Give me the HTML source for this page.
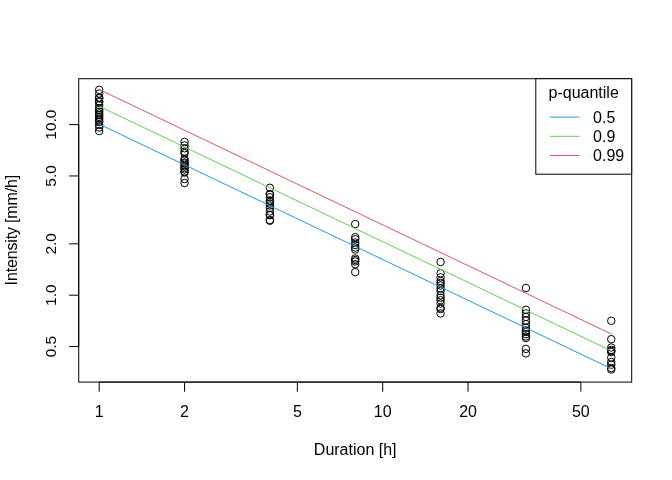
<!DOCTYPE html>
<html><head><meta charset="utf-8"><style>
html,body{margin:0;padding:0;background:#fff;}
svg{display:block;will-change:transform;}
text{font-family:"Liberation Sans",sans-serif;font-size:16px;fill:#000;}
</style></head><body>
<svg width="672" height="480" viewBox="0 0 672 480">

<g fill="none" stroke="#000" stroke-width="1">
<circle cx="99.20" cy="89.85" r="3.75"/>
<circle cx="99.20" cy="93.50" r="3.75"/>
<circle cx="99.20" cy="97.50" r="3.75"/>
<circle cx="99.20" cy="98.25" r="3.75"/>
<circle cx="99.20" cy="101.25" r="3.75"/>
<circle cx="99.20" cy="102.00" r="3.75"/>
<circle cx="99.20" cy="105.25" r="3.75"/>
<circle cx="99.20" cy="108.25" r="3.75"/>
<circle cx="99.20" cy="110.00" r="3.75"/>
<circle cx="99.20" cy="111.75" r="3.75"/>
<circle cx="99.20" cy="113.50" r="3.75"/>
<circle cx="99.20" cy="115.25" r="3.75"/>
<circle cx="99.20" cy="117.00" r="3.75"/>
<circle cx="99.20" cy="118.75" r="3.75"/>
<circle cx="99.20" cy="120.50" r="3.75"/>
<circle cx="99.20" cy="122.00" r="3.75"/>
<circle cx="99.20" cy="125.00" r="3.75"/>
<circle cx="99.20" cy="127.50" r="3.75"/>
<circle cx="99.20" cy="131.00" r="3.75"/>
<circle cx="184.54" cy="141.90" r="3.75"/>
<circle cx="184.54" cy="145.45" r="3.75"/>
<circle cx="184.54" cy="148.25" r="3.75"/>
<circle cx="184.54" cy="151.65" r="3.75"/>
<circle cx="184.54" cy="153.25" r="3.75"/>
<circle cx="184.54" cy="159.00" r="3.75"/>
<circle cx="184.54" cy="160.50" r="3.75"/>
<circle cx="184.54" cy="162.50" r="3.75"/>
<circle cx="184.54" cy="163.50" r="3.75"/>
<circle cx="184.54" cy="165.00" r="3.75"/>
<circle cx="184.54" cy="166.50" r="3.75"/>
<circle cx="184.54" cy="168.00" r="3.75"/>
<circle cx="184.54" cy="169.50" r="3.75"/>
<circle cx="184.54" cy="171.50" r="3.75"/>
<circle cx="184.54" cy="172.50" r="3.75"/>
<circle cx="184.54" cy="179.00" r="3.75"/>
<circle cx="184.54" cy="183.00" r="3.75"/>
<circle cx="269.88" cy="187.75" r="3.75"/>
<circle cx="269.88" cy="194.00" r="3.75"/>
<circle cx="269.88" cy="194.50" r="3.75"/>
<circle cx="269.88" cy="197.25" r="3.75"/>
<circle cx="269.88" cy="200.50" r="3.75"/>
<circle cx="269.88" cy="202.00" r="3.75"/>
<circle cx="269.88" cy="203.50" r="3.75"/>
<circle cx="269.88" cy="205.50" r="3.75"/>
<circle cx="269.88" cy="208.00" r="3.75"/>
<circle cx="269.88" cy="211.50" r="3.75"/>
<circle cx="269.88" cy="214.75" r="3.75"/>
<circle cx="269.88" cy="215.25" r="3.75"/>
<circle cx="269.88" cy="220.00" r="3.75"/>
<circle cx="269.88" cy="220.75" r="3.75"/>
<circle cx="355.23" cy="224.00" r="3.75"/>
<circle cx="355.23" cy="237.20" r="3.75"/>
<circle cx="355.23" cy="239.30" r="3.75"/>
<circle cx="355.23" cy="242.50" r="3.75"/>
<circle cx="355.23" cy="245.00" r="3.75"/>
<circle cx="355.23" cy="247.50" r="3.75"/>
<circle cx="355.23" cy="249.50" r="3.75"/>
<circle cx="355.23" cy="258.50" r="3.75"/>
<circle cx="355.23" cy="260.00" r="3.75"/>
<circle cx="355.23" cy="261.50" r="3.75"/>
<circle cx="355.23" cy="264.25" r="3.75"/>
<circle cx="355.23" cy="272.10" r="3.75"/>
<circle cx="440.57" cy="262.00" r="3.75"/>
<circle cx="440.57" cy="273.30" r="3.75"/>
<circle cx="440.57" cy="277.35" r="3.75"/>
<circle cx="440.57" cy="281.00" r="3.75"/>
<circle cx="440.57" cy="283.00" r="3.75"/>
<circle cx="440.57" cy="285.50" r="3.75"/>
<circle cx="440.57" cy="288.45" r="3.75"/>
<circle cx="440.57" cy="291.00" r="3.75"/>
<circle cx="440.57" cy="295.25" r="3.75"/>
<circle cx="440.57" cy="297.75" r="3.75"/>
<circle cx="440.57" cy="300.25" r="3.75"/>
<circle cx="440.57" cy="303.50" r="3.75"/>
<circle cx="440.57" cy="307.85" r="3.75"/>
<circle cx="440.57" cy="309.00" r="3.75"/>
<circle cx="440.57" cy="313.45" r="3.75"/>
<circle cx="525.91" cy="288.00" r="3.75"/>
<circle cx="525.91" cy="309.75" r="3.75"/>
<circle cx="525.91" cy="313.35" r="3.75"/>
<circle cx="525.91" cy="316.95" r="3.75"/>
<circle cx="525.91" cy="320.55" r="3.75"/>
<circle cx="525.91" cy="324.15" r="3.75"/>
<circle cx="525.91" cy="327.75" r="3.75"/>
<circle cx="525.91" cy="330.50" r="3.75"/>
<circle cx="525.91" cy="332.00" r="3.75"/>
<circle cx="525.91" cy="334.20" r="3.75"/>
<circle cx="525.91" cy="336.50" r="3.75"/>
<circle cx="525.91" cy="338.00" r="3.75"/>
<circle cx="525.91" cy="348.90" r="3.75"/>
<circle cx="525.91" cy="353.40" r="3.75"/>
<circle cx="611.25" cy="320.80" r="3.75"/>
<circle cx="611.25" cy="339.20" r="3.75"/>
<circle cx="611.25" cy="347.50" r="3.75"/>
<circle cx="611.25" cy="349.90" r="3.75"/>
<circle cx="611.25" cy="350.90" r="3.75"/>
<circle cx="611.25" cy="352.00" r="3.75"/>
<circle cx="611.25" cy="357.50" r="3.75"/>
<circle cx="611.25" cy="362.00" r="3.75"/>
<circle cx="611.25" cy="364.75" r="3.75"/>
<circle cx="611.25" cy="368.00" r="3.75"/>
<circle cx="611.25" cy="369.50" r="3.75"/>
</g>
<g fill="none" stroke-width="1">
<line x1="99.20" y1="124.15" x2="611.25" y2="368.65" stroke="#2297E6"/>
<line x1="99.20" y1="106.3" x2="611.25" y2="350.8" stroke="#61D04F"/>
<line x1="99.20" y1="89.5" x2="611.25" y2="334.0" stroke="#DF536B"/>
</g>
<rect x="78.72" y="78.72" width="552.96" height="303.36" fill="none" stroke="#000" stroke-width="1"/>
<g stroke="#000" stroke-width="1">
<line x1="99.20" y1="382.08" x2="580.86" y2="382.08"/>
<line x1="99.20" y1="382.08" x2="99.20" y2="391.68"/>
<line x1="184.54" y1="382.08" x2="184.54" y2="391.68"/>
<line x1="297.36" y1="382.08" x2="297.36" y2="391.68"/>
<line x1="382.70" y1="382.08" x2="382.70" y2="391.68"/>
<line x1="468.04" y1="382.08" x2="468.04" y2="391.68"/>
<line x1="580.86" y1="382.08" x2="580.86" y2="391.68"/>
<line x1="78.72" y1="124.60" x2="78.72" y2="346.56"/>
<line x1="78.72" y1="124.60" x2="69.12" y2="124.60"/>
<line x1="78.72" y1="175.96" x2="69.12" y2="175.96"/>
<line x1="78.72" y1="243.84" x2="69.12" y2="243.84"/>
<line x1="78.72" y1="295.20" x2="69.12" y2="295.20"/>
<line x1="78.72" y1="346.56" x2="69.12" y2="346.56"/>
</g>
<rect x="535.8" y="78.72" width="95.88" height="95.48" fill="#fff" stroke="#000"/>
<text x="583.7" y="98.0" text-anchor="middle">p-quantile</text>
<line x1="550.0" y1="117.10" x2="579.4" y2="117.10" stroke="#2297E6"/>
<text x="593.1" y="122.80">0.5</text>
<line x1="550.0" y1="136.30" x2="579.4" y2="136.30" stroke="#61D04F"/>
<text x="593.1" y="142.00">0.9</text>
<line x1="550.0" y1="155.50" x2="579.4" y2="155.50" stroke="#DF536B"/>
<text x="593.1" y="161.20">0.99</text>
<text x="99.20" y="416.7" text-anchor="middle" style="font-size:16px">1</text>
<text x="184.54" y="416.7" text-anchor="middle" style="font-size:16px">2</text>
<text x="297.36" y="416.7" text-anchor="middle" style="font-size:16px">5</text>
<text x="382.70" y="416.7" text-anchor="middle" style="font-size:16px">10</text>
<text x="468.04" y="416.7" text-anchor="middle" style="font-size:16px">20</text>
<text x="580.86" y="416.7" text-anchor="middle" style="font-size:16px">50</text>
<text transform="translate(55.9 124.60) rotate(-90)" text-anchor="middle" style="font-size:15.5px">10.0</text>
<text transform="translate(55.9 175.96) rotate(-90)" text-anchor="middle" style="font-size:15.5px">5.0</text>
<text transform="translate(55.9 243.84) rotate(-90)" text-anchor="middle" style="font-size:15.5px">2.0</text>
<text transform="translate(55.9 295.20) rotate(-90)" text-anchor="middle" style="font-size:15.5px">1.0</text>
<text transform="translate(55.9 346.56) rotate(-90)" text-anchor="middle" style="font-size:15.5px">0.5</text>
<text x="355.2" y="454.5" text-anchor="middle">Duration [h]</text>
<text transform="translate(17.25 230.2) rotate(-90)" text-anchor="middle" letter-spacing="-0.16">Intensity [mm/h]</text>
</svg>
</body></html>
